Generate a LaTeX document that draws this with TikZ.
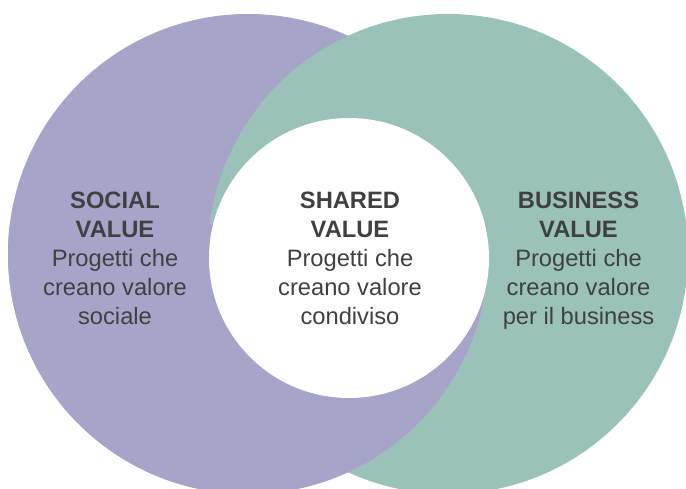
\documentclass[tikz,border=0pt]{standalone}
\usepackage{fontspec}
\setmainfont{Liberation Sans}
\definecolor{socialcol}{HTML}{A6A5C9}
\definecolor{businesscol}{HTML}{9AC2B9}
\definecolor{textcol}{HTML}{404040}
\begin{document}
\begin{tikzpicture}[x=1pt,y=1pt]
\tikzstyle{valuetext}=[inner sep=0pt,anchor=north,align=center,text=textcol,font=\fontsize{23.7}{29}\selectfont]
    \useasboundingbox (0,0) rectangle (686,488);
    \fill [socialcol] (248,234) circle (240pt);
    \fill [businesscol] (448,234) circle (240pt);
    \begin{scope}
    \clip (0,0) rectangle (686,263);
    \fill [socialcol] (248,234) circle (240pt);
    \end{scope}
    \fill [white] (349,230) circle (140pt);
    \node [valuetext] (social) at (115,296) {\textbf{SOCIAL}\\\textbf{VALUE}\\Progetti che\\creano valore\\sociale};
    \node [valuetext] (shared) at (350,296) {\textbf{SHARED}\\\textbf{VALUE}\\Progetti che\\creano valore\\condiviso};
    \node [valuetext] (business) at (578.5,296) {\textbf{BUSINESS}\\\textbf{VALUE}\\Progetti che\\creano valore\\per il business};
\end{tikzpicture}
\end{document}
